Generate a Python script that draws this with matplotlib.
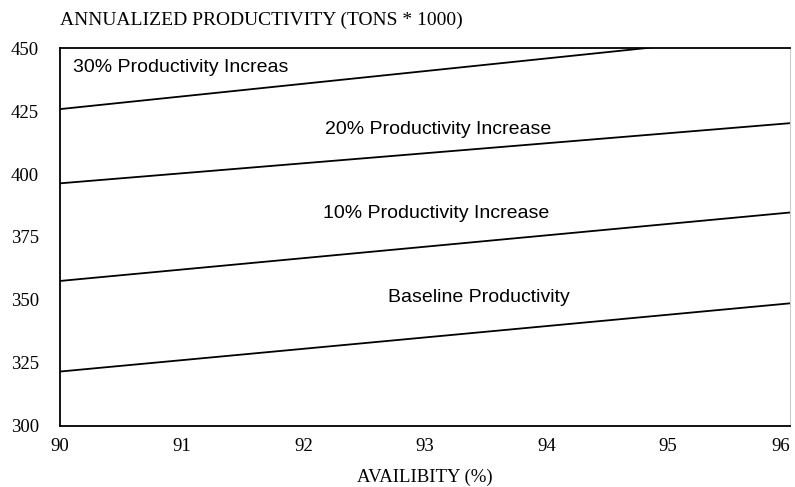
import numpy as np
import matplotlib.pyplot as plt

# availability (%) endpoints and productivity (tons * 1000)
avail = [90, 96]
baseline = [321.5, 348.6]
inc10 = [357.5, 384.7]
inc20 = [396.3, 420.2]
inc30 = [425.8, 456.0]

xticks = [90, 91, 92, 93, 94, 95, 96]
yticks = [300, 325, 350, 375, 400, 425, 450]

labels = ["30% Productivity Increas", "20% Productivity Increase",
          "10% Productivity Increase", "Baseline Productivity"]
label_pos = [(90.11, 442.2), (92.18, 417.5), (92.16, 384.5), (92.7, 351.0)]

fig = plt.figure(figsize=(7.95, 4.87), dpi=100)
ax = fig.add_axes([0.0755, 0.126, 0.918, 0.775])

for ys in [baseline, inc10, inc20, inc30]:
    ax.plot(avail, ys, color="black", lw=1.3)

for txt, (x, y) in zip(labels, label_pos):
    ax.text(x, y, txt, fontsize=14, family="Liberation Sans", va="center", ha="left")

ax.set_xlim(90, 96)
ax.set_ylim(300, 450)
ax.set_xticks(xticks)
ax.set_yticks(yticks)
ax.tick_params(length=0, labelsize=13.5)
ax.tick_params(axis="y", pad=15)
ax.tick_params(axis="x", pad=9)
for lab in ax.get_xticklabels() + ax.get_yticklabels():
    lab.set_family("Liberation Serif")
ax.get_xticklabels()[-1].set_ha("right")

for s in ["left", "bottom", "top"]:
    ax.spines[s].set_linewidth(1.3)
ax.spines["right"].set_color("#cccccc")

ax.set_xlabel("AVAILIBITY (%)", family="Liberation Serif", fontsize=13.5, labelpad=10)
fig.text(60 / 795, 1 - 20 / 487, "ANNUALIZED PRODUCTIVITY (TONS * 1000)",
         family="Liberation Serif", fontsize=14, va="center", ha="left")

fig.savefig("out.png", dpi=100)
